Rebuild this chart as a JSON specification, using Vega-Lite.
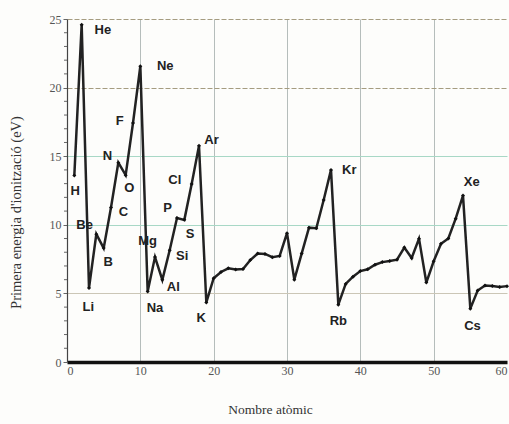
{
  "$schema": "https://vega.github.io/schema/vega-lite/v6.json",
  "width": 440,
  "height": 343,
  "autosize": "none",
  "padding": {"left": 67, "top": 19, "right": 2, "bottom": 62},
  "background": "#fdfdfb",
  "config": {"view": {"stroke": null}},
  "datasets": {
    "ie": [
      {"Z": 1, "E": 13.6}, {"Z": 2, "E": 24.59}, {"Z": 3, "E": 5.39}, {"Z": 4, "E": 9.32},
      {"Z": 5, "E": 8.3}, {"Z": 6, "E": 11.26}, {"Z": 7, "E": 14.53}, {"Z": 8, "E": 13.62},
      {"Z": 9, "E": 17.42}, {"Z": 10, "E": 21.56}, {"Z": 11, "E": 5.14}, {"Z": 12, "E": 7.65},
      {"Z": 13, "E": 5.99}, {"Z": 14, "E": 8.15}, {"Z": 15, "E": 10.49}, {"Z": 16, "E": 10.36},
      {"Z": 17, "E": 12.97}, {"Z": 18, "E": 15.76}, {"Z": 19, "E": 4.34}, {"Z": 20, "E": 6.11},
      {"Z": 21, "E": 6.56}, {"Z": 22, "E": 6.83}, {"Z": 23, "E": 6.75}, {"Z": 24, "E": 6.77},
      {"Z": 25, "E": 7.43}, {"Z": 26, "E": 7.9}, {"Z": 27, "E": 7.88}, {"Z": 28, "E": 7.64},
      {"Z": 29, "E": 7.73}, {"Z": 30, "E": 9.39}, {"Z": 31, "E": 6.0}, {"Z": 32, "E": 7.9},
      {"Z": 33, "E": 9.79}, {"Z": 34, "E": 9.75}, {"Z": 35, "E": 11.81}, {"Z": 36, "E": 14.0},
      {"Z": 37, "E": 4.18}, {"Z": 38, "E": 5.69}, {"Z": 39, "E": 6.22}, {"Z": 40, "E": 6.63},
      {"Z": 41, "E": 6.76}, {"Z": 42, "E": 7.09}, {"Z": 43, "E": 7.28}, {"Z": 44, "E": 7.36},
      {"Z": 45, "E": 7.46}, {"Z": 46, "E": 8.34}, {"Z": 47, "E": 7.58}, {"Z": 48, "E": 8.99},
      {"Z": 49, "E": 5.79}, {"Z": 50, "E": 7.34}, {"Z": 51, "E": 8.61}, {"Z": 52, "E": 9.01},
      {"Z": 53, "E": 10.45}, {"Z": 54, "E": 12.13}, {"Z": 55, "E": 3.89}, {"Z": 56, "E": 5.21},
      {"Z": 57, "E": 5.58}, {"Z": 58, "E": 5.54}, {"Z": 59, "E": 5.47}, {"Z": 60, "E": 5.53}
    ],
    "labels": [
      {"sym": "He", "Z": 4.9, "E": 24.2}, {"sym": "Ne", "Z": 13.4, "E": 21.6},
      {"sym": "H", "Z": 1.1, "E": 12.5}, {"sym": "Be", "Z": 2.4, "E": 10.0},
      {"sym": "Li", "Z": 2.9, "E": 4.0}, {"sym": "B", "Z": 5.6, "E": 7.3},
      {"sym": "C", "Z": 7.7, "E": 10.9}, {"sym": "N", "Z": 5.5, "E": 15.0},
      {"sym": "O", "Z": 8.5, "E": 12.7}, {"sym": "F", "Z": 7.2, "E": 17.6},
      {"sym": "Mg", "Z": 11.0, "E": 8.8}, {"sym": "Na", "Z": 12.0, "E": 3.9},
      {"sym": "Al", "Z": 14.5, "E": 5.5}, {"sym": "Si", "Z": 15.7, "E": 7.7},
      {"sym": "S", "Z": 16.8, "E": 9.3}, {"sym": "P", "Z": 13.7, "E": 11.2},
      {"sym": "Cl", "Z": 14.7, "E": 13.3}, {"sym": "Ar", "Z": 19.7, "E": 16.2},
      {"sym": "K", "Z": 18.3, "E": 3.2}, {"sym": "Kr", "Z": 38.5, "E": 14.0},
      {"sym": "Rb", "Z": 37.0, "E": 3.0}, {"sym": "Xe", "Z": 55.2, "E": 13.1},
      {"sym": "Cs", "Z": 55.3, "E": 2.6}
    ],
    "minor": [
      {"v": 1}, {"v": 2}, {"v": 3}, {"v": 4}, {"v": 6}, {"v": 7}, {"v": 8}, {"v": 9},
      {"v": 11}, {"v": 12}, {"v": 13}, {"v": 14}, {"v": 16}, {"v": 17}, {"v": 18}, {"v": 19},
      {"v": 21}, {"v": 22}, {"v": 23}, {"v": 24}
    ]
  },
  "layer": [
    {
      "data": {"name": "ie"},
      "mark": {"type": "line", "color": "#222", "strokeWidth": 2.5,
               "point": {"filled": true, "shape": "diamond", "size": 16, "color": "#111"}},
      "encoding": {
        "x": {"field": "Z", "type": "quantitative",
              "scale": {"domain": [0, 60], "nice": false},
              "axis": {
                "title": "Nombre atòmic", "titleFont": "Liberation Serif", "titleFontSize": 13.5,
                "titleFontWeight": "normal", "titleColor": "#333", "titlePadding": 26,
                "titleX": 203,
                "values": [0, 10, 20, 30, 40, 50, 60], "labelOverlap": false,
                "labelFont": "Liberation Serif", "labelFontSize": 12, "labelColor": "#555",
                "labelPadding": 3, "ticks": false,
                "domainColor": "#111", "domainWidth": 3.5,
                "grid": true, "gridColor": "#b5bdbb", "gridWidth": 1,
                "gridOpacity": {"condition": {"test": "datum.value == 0 || datum.value == 60", "value": 0}, "value": 1}
              }},
        "y": {"field": "E", "type": "quantitative",
              "scale": {"domain": [0, 25], "nice": false},
              "axis": {
                "title": "Primera energia d'ionització (eV)", "titleFont": "Liberation Serif",
                "titleFontSize": 14.5, "titleFontWeight": "normal", "titleColor": "#333",
                "titlePadding": 26, "titleY": 193,
                "values": [0, 5, 10, 15, 20, 25],
                "labelOverlap": false,
                "labelFont": "Liberation Serif", "labelFontSize": 12, "labelColor": "#555",
                "labelPadding": 2,
                "tickColor": "#666", "tickSize": 4,
                "domainColor": "#444", "domainWidth": 1.2,
                "grid": true,
                "gridOpacity": {"condition": {"test": "datum.value == 0", "value": 0}, "value": 1},
                "gridColor": {"condition": [
                                {"test": "datum.value >= 20", "value": "#a59c80"},
                                {"test": "datum.value == 5", "value": "#cbc6b6"}],
                              "value": "#a8d8c6"},
                "gridDash": {"condition": {"test": "datum.value >= 20", "value": [5, 2]}, "value": [10, 0]},
                "gridWidth": 1.2
              }}
      }
    },
    {
      "data": {"name": "minor"},
      "mark": {"type": "rule", "color": "#666", "strokeWidth": 1, "x2Offset": -3, "clip": false},
      "encoding": {
        "x": {"datum": 0, "type": "quantitative"},
        "x2": {"datum": 0},
        "y": {"field": "v", "type": "quantitative"}
      }
    },
    {
      "data": {"name": "labels"},
      "mark": {"type": "text", "font": "Liberation Sans", "fontWeight": "bold", "fontSize": 13,
               "color": "#222", "align": "center", "baseline": "middle"},
      "encoding": {
        "x": {"field": "Z", "type": "quantitative"},
        "y": {"field": "E", "type": "quantitative"},
        "text": {"field": "sym"}
      }
    }
  ]
}
